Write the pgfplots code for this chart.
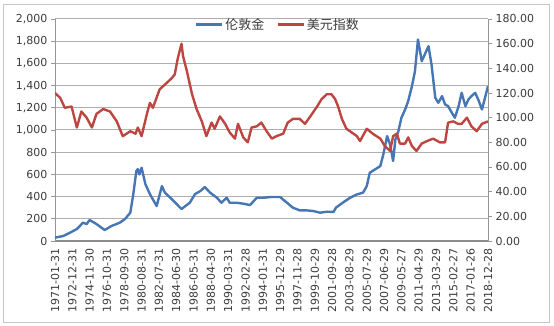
\documentclass[border=0pt]{standalone}
\usepackage{pgfplots}
\pgfplotsset{compat=1.18}
\usepackage{fontspec}
\setmainfont{DejaVu Sans}
\newfontfamily\cjk{Noto Sans CJK SC}
\definecolor{goldblue}{RGB}{70,118,180}
\definecolor{usdred}{RGB}{190,70,65}
\definecolor{gridgray}{RGB}{175,175,175}
\definecolor{axgray}{RGB}{150,150,150}
\definecolor{lblgray}{RGB}{60,60,60}

\pgfplotsset{
  common/.style={
    at={(55pt,85pt)}, anchor=south west,
    scale only axis, width=433pt, height=222pt,
    xmin=0, xmax=575,
    axis line style={-},
    tick label style={font=\fontsize{11}{13}\selectfont, text=lblgray},
    /pgf/number format/assume math mode=true,
    tick align=outside, major tick length=4pt,
    y tick style={axgray, line width=0.6pt},
    y axis line style={axgray, line width=0.6pt},
  },
}

\begin{document}
\begin{tikzpicture}[x=1pt,y=1pt]
\useasboundingbox (0,0) rectangle (554,326);
\draw[gray!45, line width=0.8pt] (3,4) rectangle (549,322);
\begin{axis}[common,
  ymin=0, ymax=2000, ytick={0,200,...,2000},
  axis y line*=left, axis x line*=bottom,
  x axis line style={draw=gray!90, line width=2.5pt},
  yticklabel style={/pgf/number format/.cd, fixed, 1000 sep={,}},
  ymajorgrids, grid style={gridgray, line width=1pt},
  xtick={0,23,...,575},
  xticklabels={1971-01-31,1972-12-31,1974-11-30,1976-10-31,1978-09-30,1980-08-31,1982-07-31,1984-06-30,1986-05-31,1988-04-30,1990-03-31,1992-02-28,1994-01-31,1995-12-29,1997-11-28,1999-10-29,2001-09-28,2003-08-29,2005-07-29,2007-06-29,2009-05-27,2011-04-29,2013-03-29,2015-02-27,2017-01-26,2018-12-28},
  x tick style={draw=none},
  xticklabel style={rotate=90, anchor=east},
]
\addplot[goldblue, line width=2.4pt, line join=round] coordinates {
(0,30)(11,45)(20,75)(29,108)(33,135)(37,165)(42,153)(46,189)(55,153)(66,99)(75,135)(86,165)(93,198)(100,255)(104,423)(108,630)(110,648)(112,600)(115,660)(120,513)(126,423)(135,315)(142,495)(146,435)(155,378)(168,288)(179,345)(186,423)(193,450)(199,486)(206,435)(215,390)(221,345)(228,390)(232,345)(241,345)(250,336)(259,324)(268,390)(277,390)(286,396)(299,396)(308,345)(316,300)(325,276)(334,276)(343,270)(352,255)(361,264)(370,262)(373,300)(382,345)(392,390)(401,420)(409,435)(414,495)(418,615)(425,645)(432,675)(436,780)(441,945)(445,870)(449,720)(452,915)(456,990)(460,1110)(465,1185)(469,1260)(474,1395)(478,1530)(482,1815)(485,1700)(487,1620)(491,1680)(496,1755)(500,1590)(505,1290)(509,1245)(514,1305)(518,1230)(522,1215)(527,1155)(531,1110)(536,1215)(540,1335)(545,1215)(549,1275)(553,1305)(558,1335)(562,1275)(567,1185)(571,1290)(575,1395)
};
\end{axis}
\begin{axis}[common,
  ymin=0, ymax=180, ytick={0,20,...,180},
  axis y line*=right, axis x line=none,
  yticklabel style={/pgf/number format/.cd, fixed, fixed zerofill, precision=2},
  legend style={at={(0.515,0.975)}, anchor=center, draw=none, fill=none,
    font=\cjk\fontsize{13}{15}\selectfont, text=lblgray,
    legend columns=2, /tikz/every even column/.append style={column sep=10pt},
    nodes={inner sep=2pt}},
  legend image code/.code={\draw[#1, line width=2.4pt] (0pt,0pt) -- (26pt,0pt);},
]
\addlegendimage{goldblue}
\addlegendentry{伦敦金}
\addplot[usdred, line width=2.4pt, line join=round] coordinates {
(0,120)(7,116)(13,108)(22,109)(29,92)(35,105)(42,100)(49,92)(55,103)(64,107)(73,105)(82,97)(90,85)(100,89)(107,87)(110,92)(115,85)(122,103)(126,112)(130,108)(139,123)(148,128)(155,132)(159,135)(163,148)(168,160)(170,150)(175,138)(182,119)(188,107)(195,97)(201,85)(208,96)(212,91)(219,101)(226,95)(232,88)(239,83)(243,95)(250,84)(256,80)(261,92)(268,93)(274,96)(281,89)(288,83)(294,85)(303,87)(309,96)(316,99)(325,99)(332,95)(339,101)(348,109)(354,115)(361,119)(367,119)(372,115)(376,109)(381,99)(387,91)(394,88)(401,85)(405,81)(414,91)(422,87)(432,83)(438,77)(445,73)(449,85)(454,87)(458,79)(465,79)(469,84)(474,77)(480,73)(487,79)(494,81)(502,83)(511,80)(518,80)(522,96)(529,97)(535,95)(540,95)(547,100)(553,93)(560,89)(567,95)(575,97)
};
\addlegendentry{美元指数}
\end{axis}
\end{tikzpicture}
\end{document}
